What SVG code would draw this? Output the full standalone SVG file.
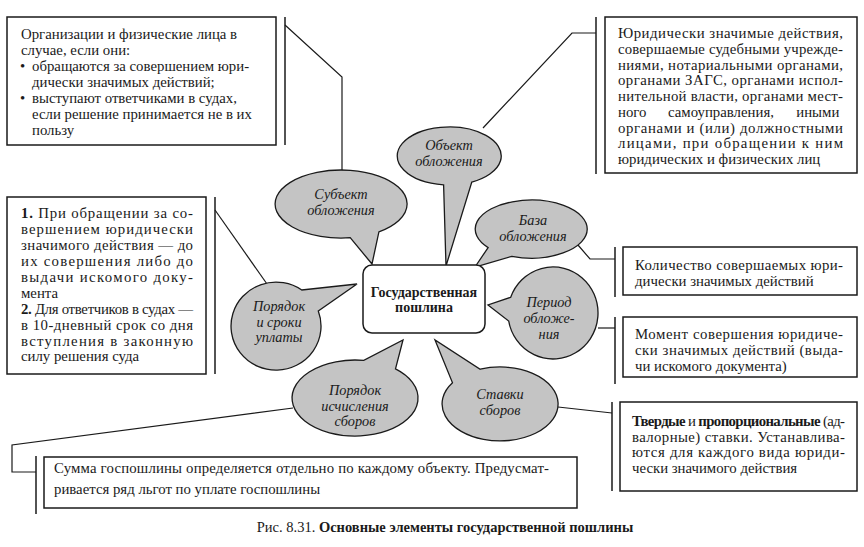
<svg xmlns="http://www.w3.org/2000/svg" width="864" height="547" viewBox="0 0 864 547">
<style>
.box{fill:#fff;stroke:#1a1a1a;stroke-width:1.5}
.br{fill:none;stroke:#1a1a1a;stroke-width:1.5}
.ln{fill:none;stroke:#1a1a1a;stroke-width:1.2}
.bub{fill:#c4c4c4;stroke:#1a1a1a;stroke-width:1.3}
.t{font-family:"Liberation Serif","Times New Roman","DejaVu Serif",serif;font-size:14.8px;fill:#1a1a1a}
.bt{font-family:"Liberation Serif","Times New Roman","DejaVu Serif",serif;font-size:14.3px;font-style:italic;fill:#1a1a1a;text-anchor:middle}
.ct{font-family:"Liberation Serif","Times New Roman","DejaVu Serif",serif;font-size:14px;font-weight:bold;fill:#1a1a1a;text-anchor:middle}
.cap{font-family:"Liberation Serif","Times New Roman","DejaVu Serif",serif;font-size:14.5px;fill:#1a1a1a}
.b{font-weight:bold}
</style>
<rect width="864" height="547" fill="#fff"/>

<g id="connectors">
  <line class="br" x1="285" y1="17" x2="285" y2="145"/>
  <polyline class="ln" points="285,25 342,77 342,171"/>
  <line class="br" x1="596" y1="17" x2="596" y2="174"/>
  <polyline class="ln" points="596,33 572,33 483,128"/>
  <line class="br" x1="215" y1="197" x2="215" y2="374"/>
  <line class="ln" x1="215" y1="210" x2="267" y2="284"/>
  <line class="br" x1="615" y1="247" x2="615" y2="297"/>
  <polyline class="ln" points="578,245 590,259 615,259"/>
  <line class="br" x1="615" y1="317" x2="615" y2="384"/>
  <line class="ln" x1="598" y1="328" x2="615" y2="328"/>
  <line class="br" x1="612" y1="402" x2="612" y2="491"/>
  <line class="ln" x1="558" y1="407" x2="612" y2="413"/>
  <line class="br" x1="36" y1="456" x2="36" y2="514"/>
  <polyline class="ln" points="293,408 12,445 12,472 36,472"/>
</g>

<g id="box-subject">
  <rect class="box" x="7" y="17" width="269" height="128"/>
  <text class="t">
    <tspan x="21" y="39">Организации и физические лица в</tspan>
    <tspan x="21" y="55">случае, если они:</tspan>
    <tspan x="20" y="71">•</tspan><tspan x="32" y="71">обращаются за совершением юри-</tspan>
    <tspan x="32" y="87">дически значимых действий;</tspan>
    <tspan x="20" y="103">•</tspan><tspan x="32" y="103">выступают ответчиками в судах,</tspan>
    <tspan x="32" y="119">если решение принимается не в их</tspan>
    <tspan x="32" y="135">пользу</tspan>
  </text>
</g>

<g id="box-object">
  <rect class="box" x="605" y="17" width="252" height="156"/>
  <text class="t">
    <tspan x="618" y="38" textLength="225" lengthAdjust="spacing">Юридически значимые действия,</tspan>
    <tspan x="618" y="53.8" textLength="225" lengthAdjust="spacing">совершаемые судебными учрежде-</tspan>
    <tspan x="618" y="69.5" textLength="225" lengthAdjust="spacing">ниями, нотариальными органами,</tspan>
    <tspan x="618" y="85.3" textLength="225" lengthAdjust="spacing">органами ЗАГС, органами испол-</tspan>
    <tspan x="618" y="101" textLength="225" lengthAdjust="spacing">нительной власти, органами мест-</tspan>
    <tspan x="618" y="116.8">ного</tspan><tspan x="668" y="116.8">самоуправления,</tspan><tspan x="843" y="116.8" text-anchor="end">иными</tspan>
    <tspan x="618" y="132.5" textLength="225" lengthAdjust="spacing">органами и (или) должностными</tspan>
    <tspan x="618" y="148.3" textLength="225" lengthAdjust="spacing">лицами, при обращении к ним</tspan>
    <tspan x="618" y="164">юридических и физических лиц</tspan>
  </text>
</g>

<g id="box-payment">
  <rect class="box" x="7" y="197" width="199" height="177"/>
  <text class="t">
    <tspan x="21" y="218" textLength="172" lengthAdjust="spacing"><tspan class="b">1.</tspan> При обращении за со-</tspan>
    <tspan x="21" y="234" textLength="172" lengthAdjust="spacing">вершением юридически</tspan>
    <tspan x="21" y="250" textLength="172" lengthAdjust="spacing">значимого действия — до</tspan>
    <tspan x="21" y="266" textLength="172" lengthAdjust="spacing">их совершения либо до</tspan>
    <tspan x="21" y="282" textLength="172" lengthAdjust="spacing">выдачи искомого доку-</tspan>
    <tspan x="21" y="297.5">мента</tspan>
    <tspan x="21" y="313.5" textLength="172" lengthAdjust="spacing"><tspan class="b">2.</tspan> Для ответчиков в судах —</tspan>
    <tspan x="21" y="329.5" textLength="172" lengthAdjust="spacing">в 10-дневный срок со дня</tspan>
    <tspan x="21" y="345.5" textLength="172" lengthAdjust="spacing">вступления в законную</tspan>
    <tspan x="21" y="361">силу решения суда</tspan>
  </text>
</g>

<g id="box-base">
  <rect class="box" x="623" y="247" width="234" height="48"/>
  <text class="t">
    <tspan x="635" y="270" textLength="208" lengthAdjust="spacing">Количество совершаемых юри-</tspan>
    <tspan x="635" y="286">дически значимых действий</tspan>
  </text>
</g>

<g id="box-period">
  <rect class="box" x="623" y="317" width="234" height="60"/>
  <text class="t">
    <tspan x="635" y="339" textLength="208" lengthAdjust="spacing">Момент совершения юридиче-</tspan>
    <tspan x="635" y="355" textLength="208" lengthAdjust="spacing">ски значимых действий (выда-</tspan>
    <tspan x="635" y="371">чи искомого документа)</tspan>
  </text>
</g>

<g id="box-rates">
  <rect class="box" x="620" y="402" width="237" height="89"/>
  <text class="t">
    <tspan x="632" y="426" textLength="213" lengthAdjust="spacing"><tspan class="b">Твердые</tspan> и <tspan class="b">пропорциональные</tspan> (ад-</tspan>
    <tspan x="632" y="441.5" textLength="213" lengthAdjust="spacing">валорные) ставки. Устанавлива-</tspan>
    <tspan x="632" y="457" textLength="213" lengthAdjust="spacing">ются для каждого вида юриди-</tspan>
    <tspan x="632" y="472.5">чески значимого действия</tspan>
  </text>
</g>

<g id="box-calc">
  <rect class="box" x="44" y="457" width="533" height="51"/>
  <text class="t">
    <tspan x="54" y="473" textLength="495" lengthAdjust="spacing">Сумма госпошлины определяется отдельно по каждому объекту. Предусмат-</tspan>
    <tspan x="54" y="494">ривается ряд льгот по уплате госпошлины</tspan>
  </text>
</g>

<g id="node-object">
  <path class="bub" d="M443.6,184.8 A52,29 0 1 1 471.8,182.1 L446,266 Z"/>
  <text class="bt"><tspan x="449" y="150">Объект</tspan><tspan x="449" y="166">обложения</tspan></text>
</g>
<g id="node-subject">
  <path class="bub" d="M350.2,237.7 A66,34 0 1 1 378.9,231.9 L372,264 Z"/>
  <text class="bt"><tspan x="341" y="199">Субъект</tspan><tspan x="341" y="215">обложения</tspan></text>
</g>
<g id="node-base">
  <path class="bub" d="M488.1,247.6 A56,29 0 1 1 511.8,256.3 L475,267 Z"/>
  <text class="bt"><tspan x="533" y="225">База</tspan><tspan x="533" y="241">обложения</tspan></text>
</g>
<g id="node-center">
  <rect x="363" y="265" width="122" height="68" rx="9" fill="#fff" stroke="#1a1a1a" stroke-width="1.5"/>
  <text class="ct"><tspan x="424" y="297">Государственная</tspan><tspan x="424" y="312">пошлина</tspan></text>
</g>
<g id="node-payment">
  <path class="bub" d="M318.3,311 A45,44 0 1 1 301.8,290 L357,284 Z"/>
  <text class="bt"><tspan x="279" y="311">Порядок</tspan><tspan x="279" y="326.5">и сроки</tspan><tspan x="279" y="342">уплаты</tspan></text>
</g>
<g id="node-period">
  <path class="bub" d="M510.7,297.3 A45,46 0 1 1 508.7,321 L488,305 Z"/>
  <text class="bt"><tspan x="549" y="307">Период</tspan><tspan x="549" y="323">обложе-</tspan><tspan x="549" y="339">ния</tspan></text>
</g>
<g id="node-calc">
  <path class="bub" d="M395.5,368.9 A63,38 0 1 1 363.8,360.4 L403,340 Z"/>
  <text class="bt"><tspan x="355" y="395">Порядок</tspan><tspan x="355" y="410.5">исчисления</tspan><tspan x="355" y="426">сборов</tspan></text>
</g>
<g id="node-rates">
  <path class="bub" d="M480.2,369.2 A58,37 0 1 1 452.5,382.8 L435,340 Z"/>
  <text class="bt"><tspan x="500" y="399">Ставки</tspan><tspan x="500" y="415">сборов</tspan></text>
</g>

<text class="cap" x="445" y="532" text-anchor="middle">Рис. 8.31. <tspan class="b">Основные элементы государственной пошлины</tspan></text>
</svg>
